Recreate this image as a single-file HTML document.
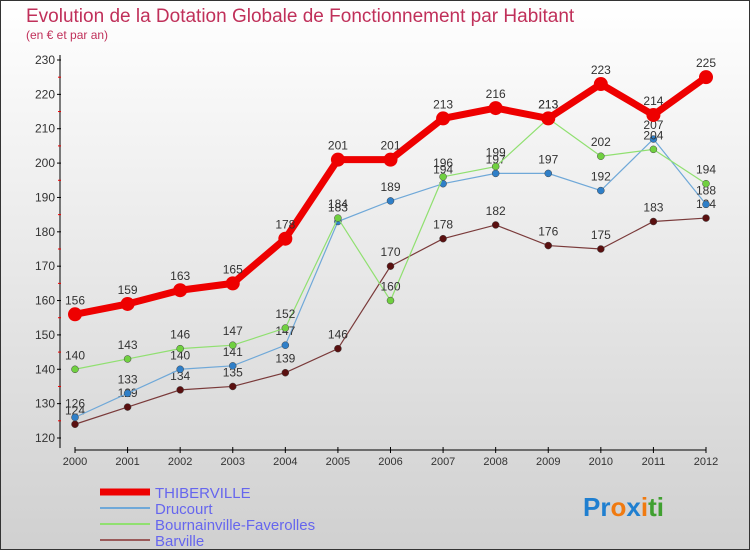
<!DOCTYPE html>
<html><head><meta charset="utf-8"><style>
body{margin:0}
svg{display:block;font-family:"Liberation Sans",sans-serif}
</style></head><body>
<svg id="c" width="750" height="550">
<defs><linearGradient id="bg" x1="0" y1="0" x2="0" y2="1"><stop offset="0" stop-color="#ffffff"/><stop offset="1" stop-color="#d0d0d0"/></linearGradient></defs>
<rect x="0.5" y="0.5" width="749" height="549" fill="url(#bg)" stroke="#333"/>
<text x="26" y="22" font-size="19" fill="#c0305a">Evolution de la Dotation Globale de Fonctionnement par Habitant</text>
<text x="26" y="39" font-size="12" fill="#c0305a">(en € et par an)</text>
<g id="axes"></g><g id="series"></g><g id="legend"></g>
<text x="583" y="516" font-size="26" font-weight="bold"><tspan fill="#1f7fd0">Pr</tspan><tspan fill="#f07a10">o</tspan><tspan fill="#1f7fd0">x</tspan><tspan fill="#f07a10">i</tspan><tspan fill="#40a030">ti</tspan></text>
</svg>
<script>
const years=[2000,2001,2002,2003,2004,2005,2006,2007,2008,2009,2010,2011,2012];
const yTicks=[120,130,140,150,160,170,180,190,200,210,220,230];
const thiberville=[156,159,163,165,178,201,201,213,216,213,223,214,225];
const drucourt=[126,133,140,141,147,183,189,194,197,197,192,207,188];
const bournainville=[140,143,146,147,152,184,160,196,199,213,202,204,194];
const barville=[124,129,134,135,139,146,170,178,182,176,175,183,184];
const NS="http://www.w3.org/2000/svg";
const x=i=>75+i*(706-75)/12;
const y=v=>438-(v-120)*(438-60)/110;
function mk(t,a,p){const e=document.createElementNS(NS,t);for(const k in a)e.setAttribute(k,a[k]);p.appendChild(e);return e;}
const ax=document.getElementById('axes');
let e=mk('line',{x1:60,y1:55,x2:60,y2:448,stroke:'#000'},ax);


e=mk('line',{x1:75,y1:450,x2:706,y2:450,stroke:'#000'},ax);


yTicks.forEach(v=>{
 mk('line',{x1:57,y1:y(v),x2:61,y2:y(v),stroke:'#000'},ax);
 if(v<230)mk('line',{x1:58,y1:y(v+5),x2:61,y2:y(v+5),stroke:'#e00'},ax);
 const t=mk('text',{x:55,y:y(v)+4,'font-size':12,'text-anchor':'end',fill:'#333'},ax);
 t.textContent=v;
 
 
});
years.forEach((yr,i)=>{
 mk('line',{x1:x(i),y1:447,x2:x(i),y2:453,stroke:'#000'},ax);
 const t=mk('text',{x:x(i),y:465,'font-size':11,'text-anchor':'middle',fill:'#333'},ax);
 t.textContent=yr;
 
 
});
const sg=document.getElementById('series');
function series(vals,name,color,w,r,dot,labelUp){
 const g=mk('g',{},sg);
 
 
 const l=mk('polyline',{points:vals.map((v,i)=>x(i)+','+y(v)).join(' '),fill:'none',stroke:color,'stroke-width':w},g);
 
 
 vals.forEach((v,i)=>{
  const c=mk('circle',{cx:x(i),cy:y(v),r:r,fill:dot,stroke:'#444','stroke-width':w>3?0:0.5},g);
  
  
  const t=mk('text',{x:x(i),y:y(v)-10,'font-size':12,'text-anchor':'middle',fill:'#333'},g);
  t.textContent=v;
  
  
 });
}
series(barville,'barville','#7a3a3a',1.2,3.5,'#5a1010');
series(drucourt,'drucourt','#6fa8d8',1.2,3.5,'#2f7fc8');
series(bournainville,'bournainville-faverolles','#90e070',1.2,3.5,'#70d040');
series(thiberville,'thiberville','#ee0000',7,7,'#ee0000');
const lg=document.getElementById('legend');
const ld=[['THIBERVILLE','#ee0000',7],['Drucourt','#6fa8d8',2],['Bournainville-Faverolles','#90e070',2],['Barville','#9a5a5a',2]];
ld.forEach((d,i)=>{
 const yy=492+i*16;
 const g=mk('g',{},lg);
 
 
 mk('line',{x1:100,y1:yy,x2:150,y2:yy,stroke:d[1],'stroke-width':d[2]},g);
 const t=mk('text',{x:155,y:yy+6,'font-size':15,fill:'#6666ee'},g);
 t.textContent=d[0];
});
</script>
</body></html>
